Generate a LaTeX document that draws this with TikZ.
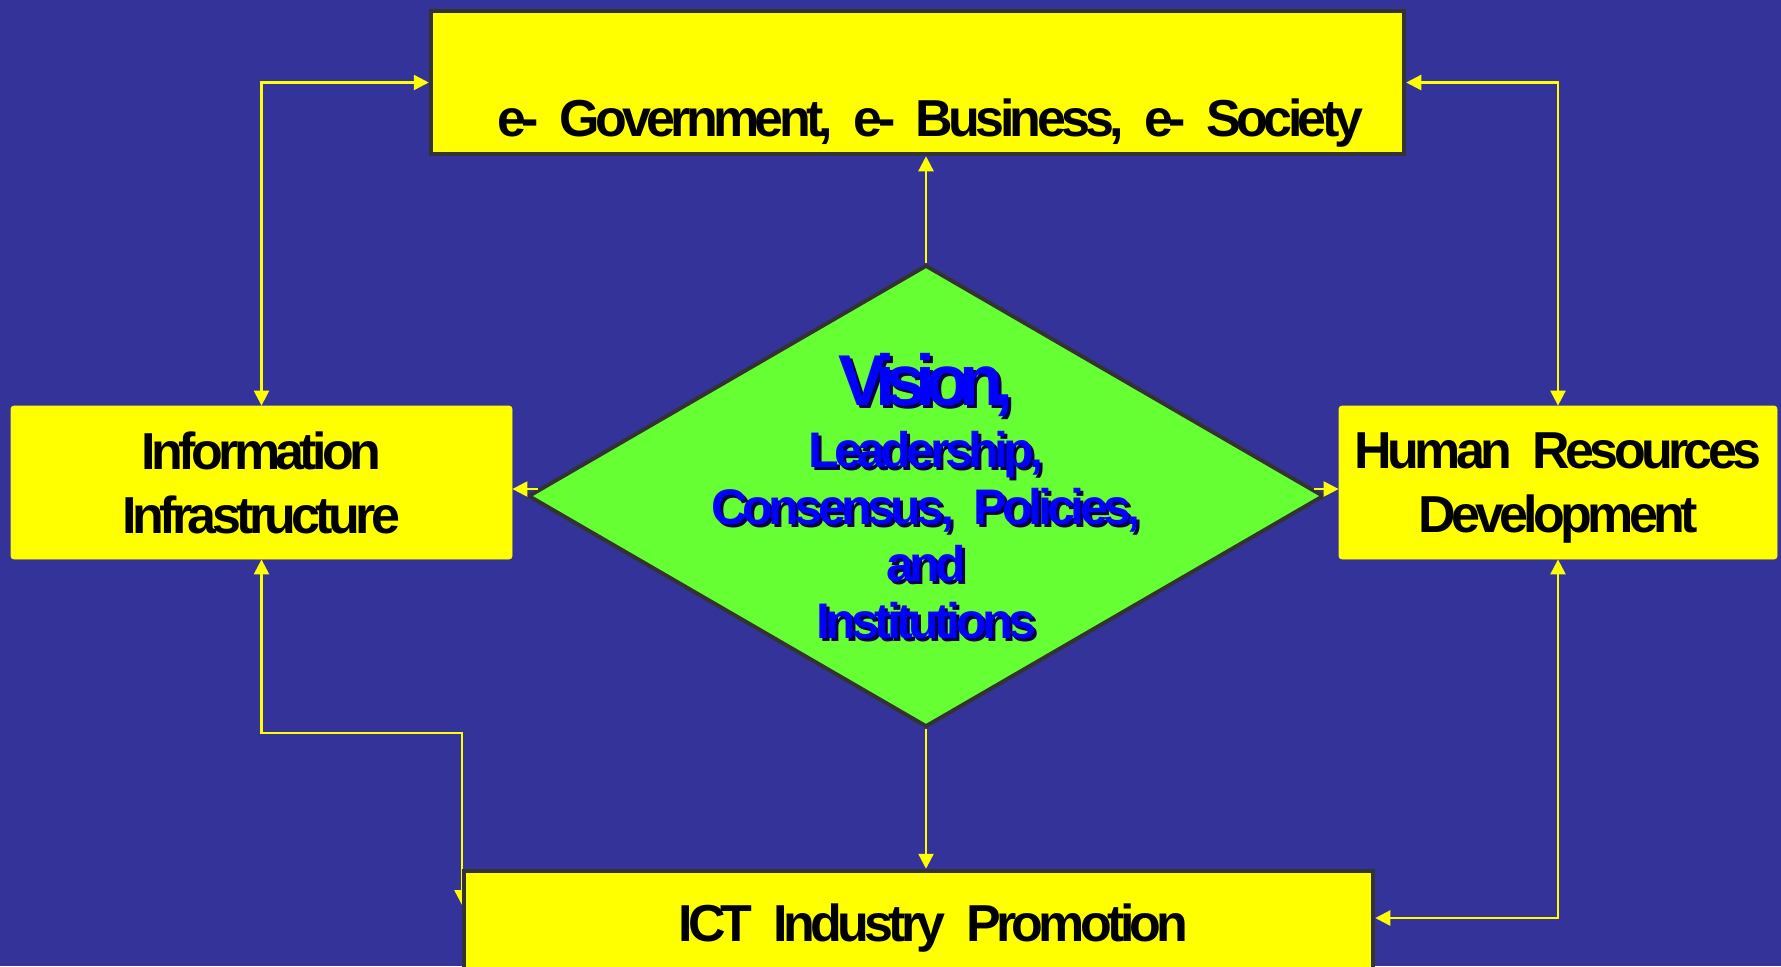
\documentclass[tikz,border=0pt]{standalone}
\usepackage{fontspec}
\setsansfont{Liberation Sans}[LetterSpace=-9,WordSpace=2.1]
\usetikzlibrary{shapes.geometric,arrows.meta,positioning,calc}
\definecolor{slideblue}{RGB}{51,51,153}
\definecolor{boxyellow}{RGB}{255,255,0}
\definecolor{hubgreen}{RGB}{102,255,51}
\definecolor{framegray}{RGB}{51,51,51}
\definecolor{hubblue}{RGB}{0,0,255}
\definecolor{shadenavy}{RGB}{0,0,70}
\pgfdeclarelayer{back}
\pgfsetlayers{back,main}

\newcommand{\hublines}{{\fontsize{36}{36}\selectfont\addfontfeatures{LetterSpace=-14}Vision,}\\[2.5pt]Leadership,\\Consensus, Policies,\\and\\Institutions}

\begin{document}
\begin{tikzpicture}[
    x=0.5pt, y=-0.5pt,
    every node/.style={font=\sffamily\bfseries\fontsize{26}{32}\selectfont},
    bannerbox/.style={rectangle, draw=framegray, line width=2.25pt, fill=boxyellow, inner sep=0pt, text depth=0pt},
    sidebox/.style={rectangle, draw=boxyellow, fill=boxyellow, rounded corners=1.5pt, inner sep=0pt, align=center, text depth=0pt},
    hub/.style={diamond, draw=framegray, line width=2pt, fill=hubgreen, inner sep=0pt, minimum width=398pt, minimum height=231pt},
    hubtext/.style={align=center, inner sep=0pt, font=\sffamily\bfseries\fontsize{25}{28.5}\selectfont},
    link/.style={-{Triangle[length=7.5pt,width=7.5pt]}, draw=boxyellow, line width=1.2pt},
    twoway/.style={link, {Triangle[length=7.5pt,width=7.5pt]}-{Triangle[length=7.5pt,width=7.5pt]}}
]
\useasboundingbox (0,0) rectangle (1781,966);

% Outer blocks
\node[bannerbox, minimum width=486.5pt, minimum height=71.5pt, text height=53.5pt] (society) at (917.5,82.5) {\hspace*{13pt}e- Government, e- Business, e- Society};
\node[sidebox, minimum width=250.5pt, minimum height=76.5pt] (infra) at (261.5,482.5) {Information\\Infrastructure};
\node[sidebox, minimum width=219pt, minimum height=76.5pt] (hrd) at (1558,482.5) {Human Resources\\Development};
\node[bannerbox, minimum width=454.5pt, minimum height=55pt, text height=15pt] (ict) at (918.5,926) {\hspace*{15pt}ICT Industry Promotion};

% Central diamond with shadowed text
\node[hub] (vision) at (926,496) {};
\node[hubtext, text=shadenavy] (visionshade) at ([xshift=1.5pt,yshift=-1.5pt]vision.center) {\hublines};
\node[hubtext, text=hubblue] (visiontext) at (vision.center) {\hublines};

% Hub out to the four blocks
\draw[link] (vision.north) -- (vision.north |- society.south);
\draw[link] (vision.south) -- (vision.south |- ict.north);
\draw[link] ([xshift=6pt,yshift=3.5pt]vision.west) -- ([yshift=3.5pt]vision.west -| infra.east);
\draw[link] ([xshift=-6pt,yshift=3.5pt]vision.east) -- ([yshift=3.5pt]vision.east -| hrd.west);

% Loops round the outside
\draw[twoway] (infra.north) |- (society.west);
\draw[twoway] (hrd.north) |- (society.east);
\draw[twoway] (hrd.south) |- ([yshift=4pt]ict.east);

% Background, and the left loop tucked under the ICT block
\coordinate (kink) at (462,733);
\coordinate (tuck) at (462,905);
\begin{pgfonlayer}{back}
\fill[slideblue] (0,0) rectangle (1781,966);
\draw[twoway] (infra.south) |- (kink) -- (tuck);
\end{pgfonlayer}

\end{tikzpicture}
\end{document}
